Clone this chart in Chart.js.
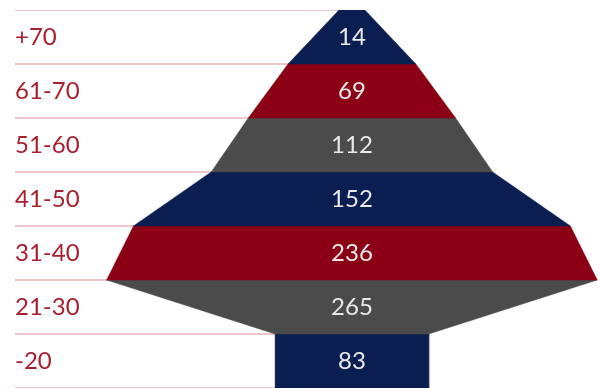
<!DOCTYPE html>
<html lang="en">
<head>
<meta charset="utf-8" />
<title>Age pyramid</title>
<style>
*{margin:0;padding:0;box-sizing:border-box}
html,body{width:600px;height:388px;background:#fff;overflow:hidden}
.wrap{position:relative;width:600px;height:388px}
</style>
</head>
<body>
<div class="wrap"><canvas id="pyr"></canvas></div>

<script src="https://cdn.jsdelivr.net/npm/chart.js@4.4.1"></script>
<script>
/* ─── data ─────────────────────────────── */
const ageGroups = ['+70', '61-70', '51-60', '41-50', '31-40', '21-30', '-20'];
const counts    = [14, 69, 112, 152, 236, 265, 83];

/* band colours, cycled navy / red / grey */
const bandColors = ['#0b1e51', '#8b0014', '#4b4b4b'];
const GRID = '#ecc7ca';
const X_MIN = -364, X_MAX = 268;   // centre line sits at ~x=352

/* one closed trapezoid per age group: top width = own count,
   bottom width = next group's count (last one stays straight) */
const bands = counts.map((v, i) => {
    const top = v;
    const bot = i + 1 < counts.length ? counts[i + 1] : v;
    return {
        data: [
            {x: -top, y: i}, {x: top, y: i},
            {x: bot, y: i + 1}, {x: -bot, y: i + 1},
            {x: -top, y: i}
        ],
        showLine: true,
        fill: 'shape',
        backgroundColor: bandColors[i % 3],
        borderColor: bandColors[i % 3],
        borderWidth: 0.5,
        pointRadius: 0,
        tension: 0
    };
});

/* pink rule lines, left half only */
const rules = [];
for (let b = 0; b <= counts.length; b++) {
    rules.push({
        data: [{x: X_MIN, y: b}, {x: 0, y: b}],
        showLine: true,
        fill: false,
        borderColor: GRID,
        borderWidth: 2,
        pointRadius: 0
    });
}

/* value labels in the middle of each band */
const valueLabels = {
    id: 'valueLabels',
    afterDatasetsDraw(chart) {
        const {ctx, scales: {x, y}} = chart;
        ctx.save();
        ctx.font = '24px Lato, "Open Sans", sans-serif';
        ctx.fillStyle = '#e9e9e9';
        ctx.textAlign = 'center';
        ctx.textBaseline = 'middle';
        counts.forEach((v, i) => {
            ctx.fillText(String(v), x.getPixelForValue(0), y.getPixelForValue(i + 0.5));
        });
        ctx.restore();
    }
};

new Chart(document.getElementById('pyr'), {
    type: 'scatter',
    data: {datasets: [...bands, ...rules]},
    options: {
        responsive: true,
        maintainAspectRatio: false,
        animation: false,
        layout: {padding: {left: 15, top: 10, right: 0, bottom: 0}},
        scales: {
            x: {
                display: false,
                min: X_MIN,
                max: X_MAX
            },
            y: {
                min: 0,
                max: counts.length,
                reverse: true,
                grid: {display: false, drawTicks: false},
                border: {display: false},
                afterBuildTicks: s => {
                    s.ticks = ageGroups.map((_, i) => ({value: i + 0.5}));
                },
                afterFit: s => {
                    // labels sit inside the rows, no extra room needed
                    s.paddingTop = 0;
                    s.paddingBottom = 0;
                },
                ticks: {
                    mirror: true,
                    padding: 0,
                    color: '#a8202e',
                    font: {family: 'Lato, "Open Sans", sans-serif', size: 24},
                    callback: v => ageGroups[Math.floor(v)]
                }
            }
        },
        plugins: {
            legend: {display: false},
            tooltip: {enabled: false}
        }
    },
    plugins: [valueLabels]
});
</script>
</body>
</html>
